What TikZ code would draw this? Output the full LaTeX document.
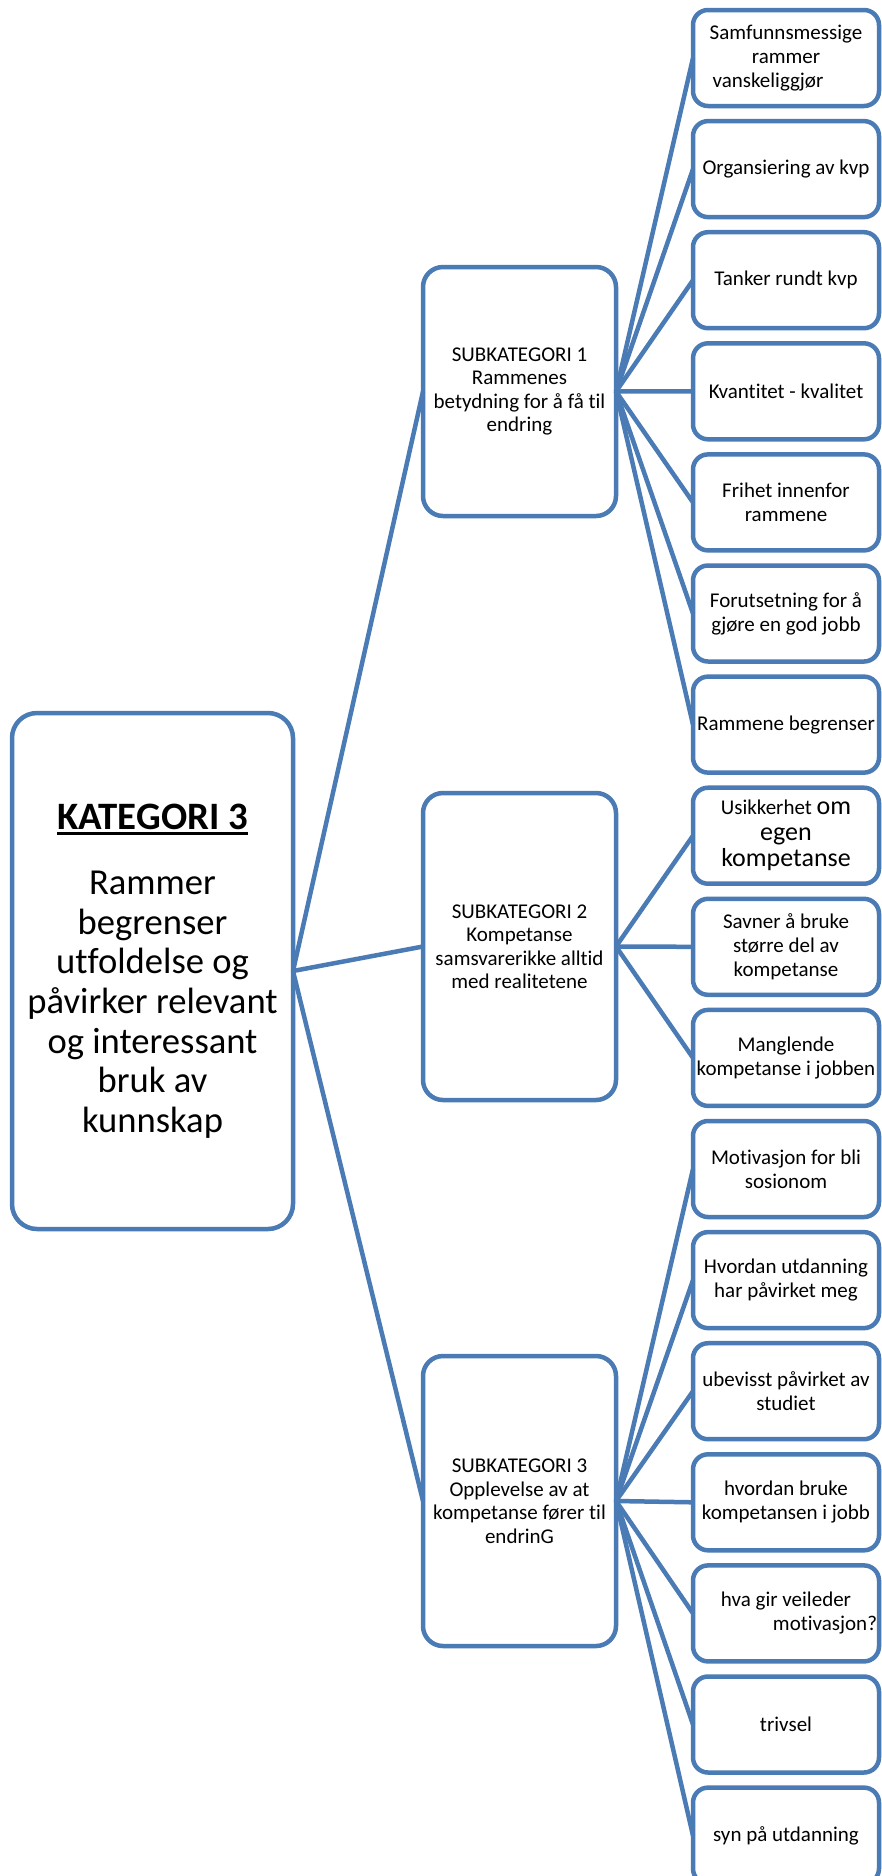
\documentclass[tikz,border=0pt]{standalone}
\usepackage{fontspec}
\setmainfont[Ligatures=NoCommon]{Carlito}
\usetikzlibrary{positioning}
\definecolor{outline}{HTML}{4A7BB5}
\newcommand{\thickunder}[1]{\setbox0\hbox{#1}\rlap{\rule[-3pt]{\wd0}{1.4pt}}\box0}

\begin{document}
\begin{tikzpicture}[
    x=0.5pt, y=-0.5pt,
    node distance=7.55pt,
    catbox/.style={rectangle, draw=outline, fill=white, line width=2.25pt,
                   rounded corners=12.5pt, minimum width=140.5pt, minimum height=258pt,
                   inner sep=1pt, outer sep=0pt, align=center,
                   font=\fontsize{18.3}{19.8}\selectfont},
    subbox/.style={rectangle, draw=outline, fill=white, line width=2.25pt,
                   rounded corners=10pt, minimum width=96.5pt,
                   inner sep=1pt, outer sep=0pt, align=center,
                   font=\fontsize{10.5}{11.75}\selectfont},
    leaf/.style={rectangle, draw=outline, fill=white, line width=2.25pt,
                 rounded corners=7.5pt, minimum width=93pt, minimum height=48pt,
                 inner sep=1pt, outer sep=0pt, align=center,
                 font=\fontsize{10.5}{12}\selectfont},
    link/.style={outline, line width=2.25pt}
  ]
  \useasboundingbox (0,0) rectangle (882,1876);
  \clip (0,0) rectangle (882,1876);

  % category and subcategories
  \node[catbox] (kat) at (152.5,971)
    {{\fontsize{19.4}{21}\selectfont\bfseries\thickunder{KATEGORI 3}}\\[13pt]
     Rammer\\begrenser\\utfoldelse og\\påvirker relevant\\og interessant\\bruk av\\kunnskap};
  \node[subbox, minimum height=124.5pt] (sub1) at (519.5,391.5)
    {SUBKATEGORI 1\\Rammenes\\betydning for å få til\\endring};
  \node[subbox, minimum height=153.5pt] (sub2) at (519.5,946.5)
    {SUBKATEGORI 2\\Kompetanse\\samsvarerikke alltid\\med realitetene};
  \node[subbox, minimum height=145pt] (sub3) at (519.5,1501)
    {SUBKATEGORI 3\\Opplevelse av at\\kompetanse fører til\\endrinG};

  % right column
  \node[leaf] (samfunn) at (786,58) {Samfunnsmessige\\rammer\\vanskeliggjør\hspace*{18pt}};
  \node[leaf, below=of samfunn] (organ) {Organsiering av kvp};
  \node[leaf, below=of organ] (tanker) {Tanker rundt kvp};
  \node[leaf, below=of tanker] (kvant) {Kvantitet - kvalitet};
  \node[leaf, below=of kvant] (frihet) {Frihet innenfor\\rammene};
  \node[leaf, below=of frihet] (forut) {Forutsetning for å\\gjøre en god jobb};
  \node[leaf, below=of forut] (begr) {Rammene begrenser};
  \node[leaf, below=of begr] (usikker)
    {Usikkerhet {\fontsize{13}{14}\selectfont om}\\[1pt]{\fontsize{13}{14}\selectfont egen}\\[1pt]{\fontsize{13}{14}\selectfont kompetanse}};
  \node[leaf, below=of usikker] (savner) {Savner å bruke\\større del av\\kompetanse};
  \node[leaf, below=of savner] (mangl) {Manglende\\kompetanse i jobben};
  \node[leaf, below=of mangl] (motiv) {Motivasjon for bli\\sosionom};
  \node[leaf, below=of motiv] (utd) {Hvordan utdanning\\har påvirket meg};
  \node[leaf, below=of utd] (ubev) {ubevisst påvirket av\\studiet};
  \node[leaf, below=of ubev] (bruke) {hvordan bruke\\kompetansen i jobb};
  \node[leaf, text width=91pt, align=flush center, below=of bruke] (veil) {hva gir veileder\\\hfill motivasjon?};
  \node[leaf, below=of veil] (trivsel) {trivsel};
  \node[leaf, below=of trivsel] (syn) {syn på utdanning};

  % connectors
  \draw[link] (kat.east) -- (sub1.west);
  \draw[link] (kat.east) -- (sub2.west);
  \draw[link] (kat.east) -- (sub3.west);

  \draw[link] (sub1.east) -- (samfunn.west);
  \draw[link] (sub1.east) -- (organ.west);
  \draw[link] (sub1.east) -- (tanker.west);
  \draw[link] (sub1.east) -- (kvant.west);
  \draw[link] (sub1.east) -- (frihet.west);
  \draw[link] (sub1.east) -- (forut.west);
  \draw[link] (sub1.east) -- (begr.west);

  \draw[link] (sub2.east) -- (usikker.west);
  \draw[link] (sub2.east) -- (savner.west);
  \draw[link] (sub2.east) -- (mangl.west);

  \draw[link] (sub3.east) -- (motiv.west);
  \draw[link] (sub3.east) -- (utd.west);
  \draw[link] (sub3.east) -- (ubev.west);
  \draw[link] (sub3.east) -- (bruke.west);
  \draw[link] (sub3.east) -- (veil.west);
  \draw[link] (sub3.east) -- (trivsel.west);
  \draw[link] (sub3.east) -- (syn.west);
\end{tikzpicture}
\end{document}
